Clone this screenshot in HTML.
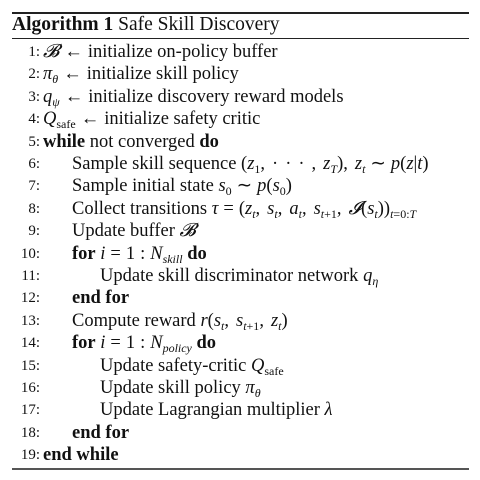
<!DOCTYPE html>
<html><head><meta charset="utf-8"><style>
body{margin:0;width:480px;height:480px;background:#fff;position:relative;overflow:hidden;font-family:"Liberation Serif",serif;color:#111}
.rule{position:absolute;left:12px;width:457px;background:#222}
.ln{position:absolute;left:0;height:22px;line-height:22px;font-size:18.5px;white-space:nowrap}
.n{position:absolute;right:440px;top:0px;width:40px;text-align:right;font-size:15px}
.t{position:absolute}
i{font-style:italic}
sub{font-size:12px;vertical-align:-4px;line-height:0}
.o{margin:0 5px}
.c{margin-right:7px}
.l0{left:43px}.l1{left:72px}.l2{left:100px}
</style></head><body>
<div class="rule" style="top:12px;height:2px"></div>
<div class="ln" style="top:14px;left:12px;font-size:19.5px"><b>Algorithm 1</b> Safe Skill Discovery</div>
<div class="rule" style="top:38px;height:1px"></div>
<div id="lines"></div>
<div class="rule" style="top:468px;height:2px;background:#555"></div>
<script>
const lines=[
[0,'<i>𝓑</i><span class="o">←</span>initialize on-policy buffer'],
[0,'<i>π</i><sub><i>θ</i></sub><span class="o">←</span>initialize skill policy'],
[0,'<i>q</i><sub><i>ψ</i></sub><span class="o">←</span>initialize discovery reward models'],
[0,'<i>Q</i><sub>safe</sub><span class="o">←</span>initialize safety critic'],
[0,'<b>while</b> not converged <b>do</b>'],
[1,'Sample skill sequence (<i>z</i><sub>1</sub>,<span class="c"></span>·<span class="c"></span>·<span class="c"></span>·<span class="c"></span>,<span class="c"></span><i>z</i><sub><i>T</i></sub>),<span class="c"></span><i>z</i><sub><i>t</i></sub><span class="o">∼</span><i>p</i>(<i>z</i>|<i>t</i>)'],
[1,'Sample initial state <i>s</i><sub>0</sub><span class="o">∼</span><i>p</i>(<i>s</i><sub>0</sub>)'],
[1,'Collect transitions <i>τ</i><span class="o">=</span>(<i>z</i><sub><i>t</i></sub>,<span class="c"></span><i>s</i><sub><i>t</i></sub>,<span class="c"></span><i>a</i><sub><i>t</i></sub>,<span class="c"></span><i>s</i><sub><i>t</i>+1</sub>,<span class="c"></span><i>𝓘</i>(<i>s</i><sub><i>t</i></sub>))<sub><i>t</i>=0:<i>T</i></sub>'],
[1,'Update buffer <i>𝓑</i>'],
[1,'<b>for</b> <i>i</i><span class="o">=</span>1<span class="o">:</span><i>N</i><sub><i>skill</i></sub> <b>do</b>'],
[2,'Update skill discriminator network <i>q</i><sub><i>η</i></sub>'],
[1,'<b>end for</b>'],
[1,'Compute reward <i>r</i>(<i>s</i><sub><i>t</i></sub>,<span class="c"></span><i>s</i><sub><i>t</i>+1</sub>,<span class="c"></span><i>z</i><sub><i>t</i></sub>)'],
[1,'<b>for</b> <i>i</i><span class="o">=</span>1<span class="o">:</span><i>N</i><sub><i>policy</i></sub> <b>do</b>'],
[2,'Update safety-critic <i>Q</i><sub>safe</sub>'],
[2,'Update skill policy <i>π</i><sub><i>θ</i></sub>'],
[2,'Update Lagrangian multiplier <i>λ</i>'],
[1,'<b>end for</b>'],
[0,'<b>end while</b>']];
const c=document.getElementById('lines');
lines.forEach((l,k)=>{
 const d=document.createElement('div');d.className='ln';
 
 
 d.style.top=(41+k*22.4)+'px';d.style.width='480px';
 d.innerHTML='<span class="n">'+(k+1)+':</span><span class="t l'+l[0]+'">'+l[1]+'</span>';
 c.appendChild(d);
});
</script>
</body></html>
